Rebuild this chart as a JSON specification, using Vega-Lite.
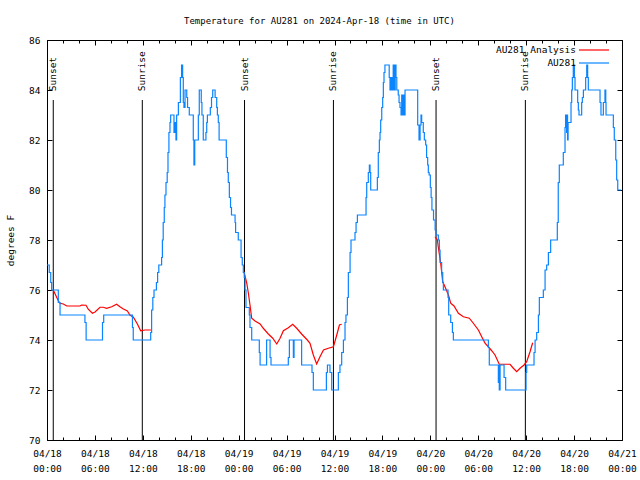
{
  "$schema": "https://vega.github.io/schema/vega-lite/v6.json",
  "autosize": {"type": "none"},
  "padding": {"left": 47, "top": 40, "right": 18, "bottom": 40},
  "width": 575,
  "height": 400,
  "background": "white",
  "title": {"text": "Temperature for AU281 on 2024-Apr-18 (time in UTC)", "offset": 9, "dx": -15, "font": "DejaVu Sans Mono", "fontSize": 9, "fontWeight": "normal", "color": "black"},
  "config": {
    "view": {"stroke": "black", "strokeWidth": 1},
    "axis": {"grid": false, "domain": false, "tickColor": "black", "tickWidth": 1, "labelColor": "black", "labelFont": "DejaVu Sans Mono", "labelFontSize": 9.5, "titleFont": "DejaVu Sans Mono", "titleFontSize": 9.5, "titleFontWeight": "normal", "titleColor": "black", "labelFlush": false, "labelOverlap": false},
    "legend": {"labelFont": "DejaVu Sans Mono", "labelFontSize": 9.5, "labelColor": "black"}
  },
  "datasets": {
    "obs": [
      {"t": "2024-04-18T00:00:00Z", "v": 77}, {"t": "2024-04-18T00:17:00Z", "v": 76.7}, {"t": "2024-04-18T00:28:00Z", "v": 76.3}, {"t": "2024-04-18T00:35:00Z", "v": 76},
      {"t": "2024-04-18T01:25:00Z", "v": 75.5}, {"t": "2024-04-18T01:38:00Z", "v": 75}, {"t": "2024-04-18T04:45:00Z", "v": 74.7}, {"t": "2024-04-18T04:54:00Z", "v": 74},
      {"t": "2024-04-18T06:57:00Z", "v": 74.7}, {"t": "2024-04-18T07:06:00Z", "v": 75}, {"t": "2024-04-18T10:42:00Z", "v": 74.5}, {"t": "2024-04-18T10:48:00Z", "v": 74},
      {"t": "2024-04-18T12:59:00Z", "v": 74.3}, {"t": "2024-04-18T13:06:00Z", "v": 75.2}, {"t": "2024-04-18T13:15:00Z", "v": 75.7}, {"t": "2024-04-18T13:24:00Z", "v": 76},
      {"t": "2024-04-18T13:42:00Z", "v": 76.3}, {"t": "2024-04-18T13:51:00Z", "v": 76.7}, {"t": "2024-04-18T14:00:00Z", "v": 77}, {"t": "2024-04-18T14:21:00Z", "v": 77.3},
      {"t": "2024-04-18T14:27:00Z", "v": 78}, {"t": "2024-04-18T14:33:00Z", "v": 78.7}, {"t": "2024-04-18T14:41:00Z", "v": 79.3}, {"t": "2024-04-18T14:46:00Z", "v": 79.8},
      {"t": "2024-04-18T14:54:00Z", "v": 80.3}, {"t": "2024-04-18T15:03:00Z", "v": 80.7}, {"t": "2024-04-18T15:09:00Z", "v": 81.5}, {"t": "2024-04-18T15:16:00Z", "v": 82.3},
      {"t": "2024-04-18T15:24:00Z", "v": 82.7}, {"t": "2024-04-18T15:29:00Z", "v": 83}, {"t": "2024-04-18T15:54:00Z", "v": 82.3}, {"t": "2024-04-18T16:00:00Z", "v": 82.7},
      {"t": "2024-04-18T16:09:00Z", "v": 82}, {"t": "2024-04-18T16:14:00Z", "v": 83}, {"t": "2024-04-18T16:27:00Z", "v": 83.5}, {"t": "2024-04-18T16:42:00Z", "v": 84.5},
      {"t": "2024-04-18T16:51:00Z", "v": 85}, {"t": "2024-04-18T16:59:00Z", "v": 84.5}, {"t": "2024-04-18T17:04:00Z", "v": 83.5}, {"t": "2024-04-18T17:09:00Z", "v": 83.3},
      {"t": "2024-04-18T17:17:00Z", "v": 84}, {"t": "2024-04-18T17:30:00Z", "v": 83.7}, {"t": "2024-04-18T17:36:00Z", "v": 83.3}, {"t": "2024-04-18T17:49:00Z", "v": 83},
      {"t": "2024-04-18T18:19:00Z", "v": 82}, {"t": "2024-04-18T18:24:00Z", "v": 81}, {"t": "2024-04-18T18:30:00Z", "v": 82}, {"t": "2024-04-18T18:57:00Z", "v": 83},
      {"t": "2024-04-18T19:04:00Z", "v": 84}, {"t": "2024-04-18T19:19:00Z", "v": 83.5}, {"t": "2024-04-18T19:24:00Z", "v": 83}, {"t": "2024-04-18T19:34:00Z", "v": 82},
      {"t": "2024-04-18T19:54:00Z", "v": 82.3}, {"t": "2024-04-18T20:00:00Z", "v": 82.7}, {"t": "2024-04-18T20:05:00Z", "v": 83}, {"t": "2024-04-18T20:27:00Z", "v": 83.3},
      {"t": "2024-04-18T20:36:00Z", "v": 83.7}, {"t": "2024-04-18T20:45:00Z", "v": 84}, {"t": "2024-04-18T21:03:00Z", "v": 83.7}, {"t": "2024-04-18T21:15:00Z", "v": 83.3},
      {"t": "2024-04-18T21:20:00Z", "v": 83}, {"t": "2024-04-18T21:27:00Z", "v": 82.7}, {"t": "2024-04-18T21:33:00Z", "v": 82}, {"t": "2024-04-18T22:27:00Z", "v": 81.3},
      {"t": "2024-04-18T22:36:00Z", "v": 80.7}, {"t": "2024-04-18T22:42:00Z", "v": 80.3}, {"t": "2024-04-18T22:50:00Z", "v": 79.7}, {"t": "2024-04-18T22:59:00Z", "v": 79.3},
      {"t": "2024-04-18T23:06:00Z", "v": 79}, {"t": "2024-04-18T23:33:00Z", "v": 78.7}, {"t": "2024-04-18T23:37:00Z", "v": 78.3}, {"t": "2024-04-18T23:57:00Z", "v": 78},
      {"t": "2024-04-19T00:18:00Z", "v": 77.3}, {"t": "2024-04-19T00:27:00Z", "v": 77}, {"t": "2024-04-19T00:35:00Z", "v": 76.7}, {"t": "2024-04-19T00:42:00Z", "v": 76.5},
      {"t": "2024-04-19T00:48:00Z", "v": 76}, {"t": "2024-04-19T00:55:00Z", "v": 75.3}, {"t": "2024-04-19T01:20:00Z", "v": 75}, {"t": "2024-04-19T01:25:00Z", "v": 74.5},
      {"t": "2024-04-19T01:38:00Z", "v": 74}, {"t": "2024-04-19T02:35:00Z", "v": 73.5}, {"t": "2024-04-19T02:41:00Z", "v": 73}, {"t": "2024-04-19T03:30:00Z", "v": 74},
      {"t": "2024-04-19T03:56:00Z", "v": 73.3}, {"t": "2024-04-19T04:03:00Z", "v": 73}, {"t": "2024-04-19T06:13:00Z", "v": 73.3}, {"t": "2024-04-19T06:21:00Z", "v": 74},
      {"t": "2024-04-19T06:51:00Z", "v": 73.3}, {"t": "2024-04-19T06:56:00Z", "v": 74}, {"t": "2024-04-19T07:53:00Z", "v": 73}, {"t": "2024-04-19T09:11:00Z", "v": 72.7},
      {"t": "2024-04-19T09:21:00Z", "v": 72}, {"t": "2024-04-19T10:59:00Z", "v": 72.7}, {"t": "2024-04-19T11:07:00Z", "v": 73}, {"t": "2024-04-19T11:26:00Z", "v": 72.7},
      {"t": "2024-04-19T11:39:00Z", "v": 72}, {"t": "2024-04-19T12:29:00Z", "v": 72.7}, {"t": "2024-04-19T12:41:00Z", "v": 73}, {"t": "2024-04-19T12:54:00Z", "v": 73.5},
      {"t": "2024-04-19T13:07:00Z", "v": 74}, {"t": "2024-04-19T13:19:00Z", "v": 74.7}, {"t": "2024-04-19T13:26:00Z", "v": 75}, {"t": "2024-04-19T13:37:00Z", "v": 75.7},
      {"t": "2024-04-19T13:44:00Z", "v": 76.7}, {"t": "2024-04-19T13:57:00Z", "v": 77.5}, {"t": "2024-04-19T14:04:00Z", "v": 78}, {"t": "2024-04-19T14:34:00Z", "v": 78.3},
      {"t": "2024-04-19T14:42:00Z", "v": 78.7}, {"t": "2024-04-19T14:52:00Z", "v": 79}, {"t": "2024-04-19T15:57:00Z", "v": 79.7}, {"t": "2024-04-19T16:02:00Z", "v": 80.3},
      {"t": "2024-04-19T16:14:00Z", "v": 80.7}, {"t": "2024-04-19T16:22:00Z", "v": 81}, {"t": "2024-04-19T16:27:00Z", "v": 80.7}, {"t": "2024-04-19T16:32:00Z", "v": 80},
      {"t": "2024-04-19T17:22:00Z", "v": 80.5}, {"t": "2024-04-19T17:29:00Z", "v": 81.5}, {"t": "2024-04-19T17:37:00Z", "v": 82}, {"t": "2024-04-19T17:42:00Z", "v": 82.3},
      {"t": "2024-04-19T17:47:00Z", "v": 82.8}, {"t": "2024-04-19T17:55:00Z", "v": 83.3}, {"t": "2024-04-19T18:02:00Z", "v": 83.7}, {"t": "2024-04-19T18:07:00Z", "v": 84.3},
      {"t": "2024-04-19T18:12:00Z", "v": 84.7}, {"t": "2024-04-19T18:19:00Z", "v": 85}, {"t": "2024-04-19T18:51:00Z", "v": 84.5}, {"t": "2024-04-19T18:57:00Z", "v": 84},
      {"t": "2024-04-19T19:06:00Z", "v": 84.5}, {"t": "2024-04-19T19:12:00Z", "v": 84}, {"t": "2024-04-19T19:21:00Z", "v": 85}, {"t": "2024-04-19T19:27:00Z", "v": 84},
      {"t": "2024-04-19T19:36:00Z", "v": 85}, {"t": "2024-04-19T19:42:00Z", "v": 84.5}, {"t": "2024-04-19T19:48:00Z", "v": 84}, {"t": "2024-04-19T19:59:00Z", "v": 83.8},
      {"t": "2024-04-19T20:05:00Z", "v": 83.5}, {"t": "2024-04-19T20:12:00Z", "v": 83.3}, {"t": "2024-04-19T20:20:00Z", "v": 83}, {"t": "2024-04-19T20:25:00Z", "v": 83.8},
      {"t": "2024-04-19T20:30:00Z", "v": 83}, {"t": "2024-04-19T20:37:00Z", "v": 83.8}, {"t": "2024-04-19T20:45:00Z", "v": 83}, {"t": "2024-04-19T20:50:00Z", "v": 84},
      {"t": "2024-04-19T22:25:00Z", "v": 82.6}, {"t": "2024-04-19T22:35:00Z", "v": 82}, {"t": "2024-04-19T22:43:00Z", "v": 82.6}, {"t": "2024-04-19T22:50:00Z", "v": 83},
      {"t": "2024-04-19T22:55:00Z", "v": 82.7}, {"t": "2024-04-19T23:07:00Z", "v": 82.3}, {"t": "2024-04-19T23:15:00Z", "v": 82}, {"t": "2024-04-19T23:25:00Z", "v": 81.8},
      {"t": "2024-04-19T23:32:00Z", "v": 81.3}, {"t": "2024-04-19T23:40:00Z", "v": 81}, {"t": "2024-04-19T23:45:00Z", "v": 80.7}, {"t": "2024-04-19T23:51:00Z", "v": 80.6},
      {"t": "2024-04-20T00:00:00Z", "v": 80.1}, {"t": "2024-04-20T00:06:00Z", "v": 79.7}, {"t": "2024-04-20T00:12:00Z", "v": 79.2}, {"t": "2024-04-20T00:24:00Z", "v": 78.8},
      {"t": "2024-04-20T00:36:00Z", "v": 78.4}, {"t": "2024-04-20T00:42:00Z", "v": 78.2}, {"t": "2024-04-20T01:00:00Z", "v": 78}, {"t": "2024-04-20T01:08:00Z", "v": 77.6},
      {"t": "2024-04-20T01:13:00Z", "v": 77.1}, {"t": "2024-04-20T01:25:00Z", "v": 76.7}, {"t": "2024-04-20T01:33:00Z", "v": 76.3}, {"t": "2024-04-20T01:38:00Z", "v": 76},
      {"t": "2024-04-20T02:13:00Z", "v": 75.7}, {"t": "2024-04-20T02:18:00Z", "v": 75}, {"t": "2024-04-20T02:33:00Z", "v": 74.7}, {"t": "2024-04-20T02:46:00Z", "v": 74.3},
      {"t": "2024-04-20T02:53:00Z", "v": 74}, {"t": "2024-04-20T07:16:00Z", "v": 73.7}, {"t": "2024-04-20T07:23:00Z", "v": 73}, {"t": "2024-04-20T08:31:00Z", "v": 72.3},
      {"t": "2024-04-20T08:36:00Z", "v": 73}, {"t": "2024-04-20T08:38:00Z", "v": 72}, {"t": "2024-04-20T08:44:00Z", "v": 73}, {"t": "2024-04-20T09:14:00Z", "v": 72.5},
      {"t": "2024-04-20T09:26:00Z", "v": 72}, {"t": "2024-04-20T11:59:00Z", "v": 72.7}, {"t": "2024-04-20T12:04:00Z", "v": 73}, {"t": "2024-04-20T12:59:00Z", "v": 73.5},
      {"t": "2024-04-20T13:07:00Z", "v": 74}, {"t": "2024-04-20T13:19:00Z", "v": 74.3}, {"t": "2024-04-20T13:32:00Z", "v": 75}, {"t": "2024-04-20T13:39:00Z", "v": 75.7},
      {"t": "2024-04-20T14:09:00Z", "v": 76}, {"t": "2024-04-20T14:22:00Z", "v": 76.8}, {"t": "2024-04-20T14:34:00Z", "v": 77}, {"t": "2024-04-20T14:47:00Z", "v": 77.5},
      {"t": "2024-04-20T15:04:00Z", "v": 78}, {"t": "2024-04-20T15:54:00Z", "v": 78.7}, {"t": "2024-04-20T16:01:00Z", "v": 80.3}, {"t": "2024-04-20T16:09:00Z", "v": 81},
      {"t": "2024-04-20T16:39:00Z", "v": 81.5}, {"t": "2024-04-20T16:52:00Z", "v": 82.5}, {"t": "2024-04-20T16:56:00Z", "v": 83}, {"t": "2024-04-20T17:04:00Z", "v": 82.3},
      {"t": "2024-04-20T17:07:00Z", "v": 83}, {"t": "2024-04-20T17:11:00Z", "v": 82}, {"t": "2024-04-20T17:15:00Z", "v": 82.7}, {"t": "2024-04-20T17:37:00Z", "v": 83.5},
      {"t": "2024-04-20T17:42:00Z", "v": 84}, {"t": "2024-04-20T17:47:00Z", "v": 84.5}, {"t": "2024-04-20T17:54:00Z", "v": 85}, {"t": "2024-04-20T18:02:00Z", "v": 84.5},
      {"t": "2024-04-20T18:07:00Z", "v": 84}, {"t": "2024-04-20T18:27:00Z", "v": 83.5}, {"t": "2024-04-20T18:32:00Z", "v": 83.2}, {"t": "2024-04-20T18:37:00Z", "v": 83},
      {"t": "2024-04-20T18:57:00Z", "v": 83.5}, {"t": "2024-04-20T19:02:00Z", "v": 83.7}, {"t": "2024-04-20T19:10:00Z", "v": 84}, {"t": "2024-04-20T19:27:00Z", "v": 84.5},
      {"t": "2024-04-20T19:35:00Z", "v": 85}, {"t": "2024-04-20T19:42:00Z", "v": 84.5}, {"t": "2024-04-20T19:47:00Z", "v": 84}, {"t": "2024-04-20T21:15:00Z", "v": 83.5},
      {"t": "2024-04-20T21:22:00Z", "v": 83}, {"t": "2024-04-20T21:40:00Z", "v": 83.5}, {"t": "2024-04-20T21:52:00Z", "v": 84}, {"t": "2024-04-20T21:58:00Z", "v": 83.5},
      {"t": "2024-04-20T22:00:00Z", "v": 83}, {"t": "2024-04-20T22:55:00Z", "v": 82.5}, {"t": "2024-04-20T23:02:00Z", "v": 82}, {"t": "2024-04-20T23:13:00Z", "v": 81.2},
      {"t": "2024-04-20T23:20:00Z", "v": 80.4}, {"t": "2024-04-20T23:28:00Z", "v": 80}, {"t": "2024-04-20T23:54:00Z", "v": 80}
    ],
    "ana": [
      {"seg": 1, "t": "2024-04-18T00:47:00Z", "v": 76.0}, {"seg": 1, "t": "2024-04-18T01:25:00Z", "v": 75.57}, {"seg": 1, "t": "2024-04-18T01:38:00Z", "v": 75.47},
      {"seg": 1, "t": "2024-04-18T02:03:00Z", "v": 75.44}, {"seg": 1, "t": "2024-04-18T02:28:00Z", "v": 75.36}, {"seg": 1, "t": "2024-04-18T04:08:00Z", "v": 75.36},
      {"seg": 1, "t": "2024-04-18T04:20:00Z", "v": 75.4}, {"seg": 1, "t": "2024-04-18T04:53:00Z", "v": 75.39}, {"seg": 1, "t": "2024-04-18T05:10:00Z", "v": 75.23},
      {"seg": 1, "t": "2024-04-18T05:41:00Z", "v": 75.07}, {"seg": 1, "t": "2024-04-18T06:01:00Z", "v": 75.12}, {"seg": 1, "t": "2024-04-18T06:38:00Z", "v": 75.31},
      {"seg": 1, "t": "2024-04-18T07:03:00Z", "v": 75.31}, {"seg": 1, "t": "2024-04-18T07:28:00Z", "v": 75.27}, {"seg": 1, "t": "2024-04-18T08:06:00Z", "v": 75.33},
      {"seg": 1, "t": "2024-04-18T08:43:00Z", "v": 75.43}, {"seg": 1, "t": "2024-04-18T09:08:00Z", "v": 75.33}, {"seg": 1, "t": "2024-04-18T09:34:00Z", "v": 75.24},
      {"seg": 1, "t": "2024-04-18T10:04:00Z", "v": 75.16}, {"seg": 1, "t": "2024-04-18T10:23:00Z", "v": 75.0}, {"seg": 1, "t": "2024-04-18T10:49:00Z", "v": 74.91},
      {"seg": 1, "t": "2024-04-18T11:19:00Z", "v": 74.64}, {"seg": 1, "t": "2024-04-18T11:44:00Z", "v": 74.37}, {"seg": 1, "t": "2024-04-18T12:16:00Z", "v": 74.4},
      {"seg": 1, "t": "2024-04-18T13:01:00Z", "v": 74.4},
      {"seg": 2, "t": "2024-04-19T00:40:00Z", "v": 76.73}, {"seg": 2, "t": "2024-04-19T01:01:00Z", "v": 76.27}, {"seg": 2, "t": "2024-04-19T01:13:00Z", "v": 75.87},
      {"seg": 2, "t": "2024-04-19T01:25:00Z", "v": 75.4}, {"seg": 2, "t": "2024-04-19T01:38:00Z", "v": 74.87}, {"seg": 2, "t": "2024-04-19T02:03:00Z", "v": 74.76},
      {"seg": 2, "t": "2024-04-19T02:41:00Z", "v": 74.64}, {"seg": 2, "t": "2024-04-19T03:05:00Z", "v": 74.47}, {"seg": 2, "t": "2024-04-19T03:43:00Z", "v": 74.24},
      {"seg": 2, "t": "2024-04-19T04:16:00Z", "v": 74.07}, {"seg": 2, "t": "2024-04-19T04:46:00Z", "v": 73.84}, {"seg": 2, "t": "2024-04-19T05:11:00Z", "v": 74.07},
      {"seg": 2, "t": "2024-04-19T05:36:00Z", "v": 74.37}, {"seg": 2, "t": "2024-04-19T06:13:00Z", "v": 74.49}, {"seg": 2, "t": "2024-04-19T06:46:00Z", "v": 74.63},
      {"seg": 2, "t": "2024-04-19T07:16:00Z", "v": 74.47}, {"seg": 2, "t": "2024-04-19T07:53:00Z", "v": 74.24}, {"seg": 2, "t": "2024-04-19T08:36:00Z", "v": 74.0},
      {"seg": 2, "t": "2024-04-19T08:56:00Z", "v": 73.87}, {"seg": 2, "t": "2024-04-19T09:21:00Z", "v": 73.4}, {"seg": 2, "t": "2024-04-19T09:46:00Z", "v": 73.04},
      {"seg": 2, "t": "2024-04-19T10:11:00Z", "v": 73.33}, {"seg": 2, "t": "2024-04-19T10:37:00Z", "v": 73.6}, {"seg": 2, "t": "2024-04-19T11:14:00Z", "v": 73.67},
      {"seg": 2, "t": "2024-04-19T11:52:00Z", "v": 73.73}, {"seg": 2, "t": "2024-04-19T12:17:00Z", "v": 74.2}, {"seg": 2, "t": "2024-04-19T12:37:00Z", "v": 74.6},
      {"seg": 2, "t": "2024-04-19T12:54:00Z", "v": 74.63},
      {"seg": 3, "t": "2024-04-20T00:35:00Z", "v": 78.13}, {"seg": 3, "t": "2024-04-20T00:53:00Z", "v": 78.0}, {"seg": 3, "t": "2024-04-20T01:01:00Z", "v": 77.67},
      {"seg": 3, "t": "2024-04-20T01:18:00Z", "v": 77.07}, {"seg": 3, "t": "2024-04-20T01:33:00Z", "v": 76.33}, {"seg": 3, "t": "2024-04-20T01:50:00Z", "v": 76.13},
      {"seg": 3, "t": "2024-04-20T02:16:00Z", "v": 75.8}, {"seg": 3, "t": "2024-04-20T02:33:00Z", "v": 75.47}, {"seg": 3, "t": "2024-04-20T02:58:00Z", "v": 75.36},
      {"seg": 3, "t": "2024-04-20T03:31:00Z", "v": 75.07}, {"seg": 3, "t": "2024-04-20T04:08:00Z", "v": 74.93}, {"seg": 3, "t": "2024-04-20T04:53:00Z", "v": 74.87},
      {"seg": 3, "t": "2024-04-20T05:23:00Z", "v": 74.67}, {"seg": 3, "t": "2024-04-20T06:01:00Z", "v": 74.4}, {"seg": 3, "t": "2024-04-20T06:26:00Z", "v": 74.13},
      {"seg": 3, "t": "2024-04-20T06:51:00Z", "v": 73.87}, {"seg": 3, "t": "2024-04-20T07:16:00Z", "v": 73.73}, {"seg": 3, "t": "2024-04-20T07:41:00Z", "v": 73.57},
      {"seg": 3, "t": "2024-04-20T08:06:00Z", "v": 73.4}, {"seg": 3, "t": "2024-04-20T08:38:00Z", "v": 73.03}, {"seg": 3, "t": "2024-04-20T09:59:00Z", "v": 73.03},
      {"seg": 3, "t": "2024-04-20T10:24:00Z", "v": 72.87}, {"seg": 3, "t": "2024-04-20T10:49:00Z", "v": 72.73}, {"seg": 3, "t": "2024-04-20T11:14:00Z", "v": 72.87},
      {"seg": 3, "t": "2024-04-20T11:44:00Z", "v": 73.0}, {"seg": 3, "t": "2024-04-20T12:04:00Z", "v": 73.13}, {"seg": 3, "t": "2024-04-20T12:29:00Z", "v": 73.53},
      {"seg": 3, "t": "2024-04-20T12:49:00Z", "v": 73.89}
    ],
    "sun": [
      {"t": "2024-04-18T00:47:00Z", "event": "Sunset"},
      {"t": "2024-04-18T11:56:00Z", "event": "Sunrise"},
      {"t": "2024-04-19T00:44:00Z", "event": "Sunset"},
      {"t": "2024-04-19T11:52:00Z", "event": "Sunrise"},
      {"t": "2024-04-20T00:43:00Z", "event": "Sunset"},
      {"t": "2024-04-20T11:54:00Z", "event": "Sunrise"}
    ]
  },
  "resolve": {"axis": {"x": "independent", "y": "independent"}},
  "layer": [
    {
      "data": {"name": "sun"},
      "mark": {"type": "rule", "color": "black", "strokeWidth": 1},
      "encoding": {
        "x": {"field": "t", "type": "temporal", "scale": {"type": "utc", "domain": [1713398400000, 1713657600000]},
              "axis": {"orient": "bottom", "labels": false, "title": null, "tickSize": -3,
                       "values": [1713398400000, 1713405600000, 1713412800000, 1713420000000, 1713427200000, 1713434400000, 1713441600000, 1713448800000, 1713456000000, 1713463200000, 1713470400000, 1713477600000, 1713484800000, 1713492000000, 1713499200000, 1713506400000, 1713513600000, 1713520800000, 1713528000000, 1713535200000, 1713542400000, 1713549600000, 1713556800000, 1713564000000, 1713571200000, 1713578400000, 1713585600000, 1713592800000, 1713600000000, 1713607200000, 1713614400000, 1713621600000, 1713628800000, 1713636000000, 1713643200000, 1713650400000, 1713657600000]}},
        "y": {"datum": 70, "type": "quantitative", "scale": {"domain": [70, 86], "nice": false, "zero": false}, "axis": null},
        "y2": {"datum": 83.6}
      }
    },
    {
      "data": {"name": "sun"},
      "mark": {"type": "text", "angle": 270, "align": "left", "baseline": "middle", "font": "DejaVu Sans Mono", "fontSize": 9.5, "color": "black"},
      "encoding": {
        "x": {"field": "t", "type": "temporal",
              "axis": {"orient": "top", "labels": false, "title": null, "tickSize": -3,
                       "values": [1713398400000, 1713405600000, 1713412800000, 1713420000000, 1713427200000, 1713434400000, 1713441600000, 1713448800000, 1713456000000, 1713463200000, 1713470400000, 1713477600000, 1713484800000, 1713492000000, 1713499200000, 1713506400000, 1713513600000, 1713520800000, 1713528000000, 1713535200000, 1713542400000, 1713549600000, 1713556800000, 1713564000000, 1713571200000, 1713578400000, 1713585600000, 1713592800000, 1713600000000, 1713607200000, 1713614400000, 1713621600000, 1713628800000, 1713636000000, 1713643200000, 1713650400000, 1713657600000]}},
        "y": {"datum": 83.95, "type": "quantitative", "axis": null},
        "text": {"field": "event"}
      }
    },
    {
      "data": {"name": "ana"},
      "mark": {"type": "line", "strokeWidth": 1.2},
      "encoding": {
        "x": {"field": "t", "type": "temporal",
              "axis": {"orient": "top", "labels": false, "title": null, "tickSize": -5,
                       "values": [1713398400000, 1713420000000, 1713441600000, 1713463200000, 1713484800000, 1713506400000, 1713528000000, 1713549600000, 1713571200000, 1713592800000, 1713614400000, 1713636000000, 1713657600000]}},
        "y": {"field": "v", "type": "quantitative", "axis": {"orient": "right", "labels": false, "title": null, "values": [70, 72, 74, 76, 78, 80, 82, 84, 86], "tickSize": -5}},
        "detail": {"field": "seg"},
        "color": {"datum": "AU281 Analysis", "scale": {"domain": ["AU281 Analysis", "AU281"], "range": ["#ff0000", "#0a84ff"]},
                  "legend": {"orient": "none", "legendX": 541, "legendY": 4, "title": null, "symbolType": "M-3,0H3", "symbolSize": 100, "symbolStrokeWidth": 1.2, "symbolFillColor": "transparent", "labelAlign": "right", "labelOffset": -24, "padding": 0, "rowPadding": 2}}
      }
    },
    {
      "data": {"name": "obs"},
      "mark": {"type": "line", "interpolate": "step-after", "strokeWidth": 1.2},
      "encoding": {
        "x": {"field": "t", "type": "temporal",
              "axis": {"orient": "bottom", "title": null, "tickSize": -5, "labelPadding": 13, "labelLineHeight": 15, "labelBaseline": "top",
                       "values": [1713398400000, 1713420000000, 1713441600000, 1713463200000, 1713484800000, 1713506400000, 1713528000000, 1713549600000, 1713571200000, 1713592800000, 1713614400000, 1713636000000, 1713657600000],
                       "labelExpr": "[utcFormat(datum.value, '%m/%d'), utcFormat(datum.value, '%H:%M')]"}},
        "y": {"field": "v", "type": "quantitative", "axis": {"orient": "left", "title": "degrees F", "values": [70, 72, 74, 76, 78, 80, 82, 84, 86], "tickSize": -5, "labelPadding": 12, "titlePadding": 13}},
        "color": {"datum": "AU281"}
      }
    }
  ]
}
